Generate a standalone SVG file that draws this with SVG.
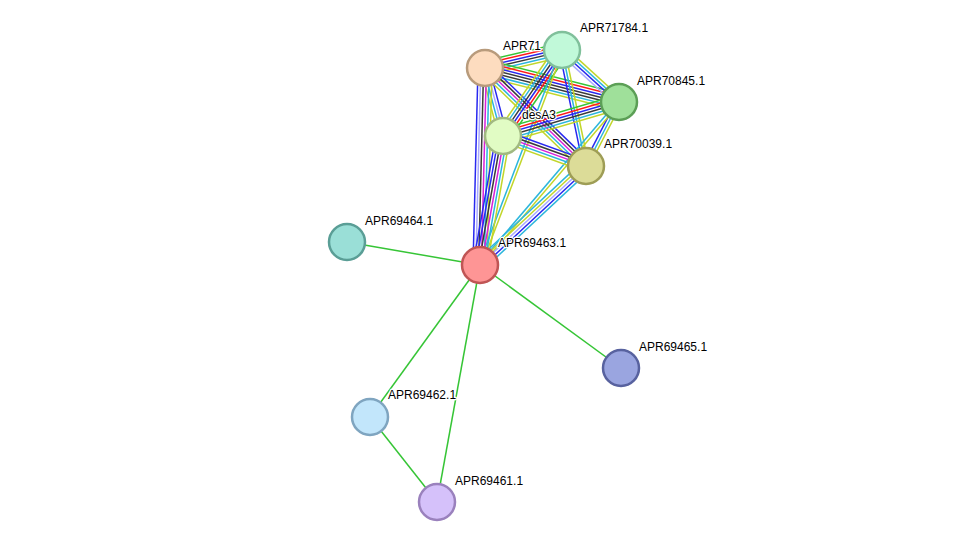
<svg xmlns="http://www.w3.org/2000/svg" width="975" height="548" viewBox="0 0 975 548">
<style>
.e line{stroke-width:1.5;fill:none}
.g{stroke:#36c536}.r{stroke:#ff1a1a}.b{stroke:#2828f0}.k{stroke:#3a3a3a}.m{stroke:#d820d8}.c{stroke:#2cb6dc}.y{stroke:#c2d62a}.l{stroke:#a8a8ff}
.n circle{stroke-width:2.5}
.n text{font-family:"Liberation Sans",Arial,sans-serif;font-size:12px;fill:#000;stroke:#fff;stroke-width:2.5;stroke-linejoin:round;paint-order:stroke}
.s{stroke:#36c536;stroke-width:1.5}
</style>
<rect width="975" height="548" fill="#fff"/>
<g id="connectors" class="e">
<g transform="translate(485,68) rotate(-13.16)"><line class="g" x1="0" y1="-7" x2="79" y2="-7"/><line class="r" x1="0" y1="-4.2" x2="79" y2="-4.2"/><line class="b" x1="0" y1="-1.4" x2="79" y2="-1.4"/><line class="k" x1="0" y1="1.4" x2="79" y2="1.4"/><line class="c" x1="0" y1="4.2" x2="79" y2="4.2"/><line class="y" x1="0" y1="7" x2="79" y2="7"/></g>
<g transform="translate(485,68) rotate(14.24)"><line class="g" x1="0" y1="-8.4" x2="138" y2="-8.4"/><line class="r" x1="0" y1="-5.6" x2="138" y2="-5.6"/><line class="b" x1="0" y1="-2.8" x2="138" y2="-2.8"/><line class="k" x1="0" y1="0" x2="138" y2="0"/><line class="k" x1="0" y1="2.8" x2="138" y2="2.8"/><line class="c" x1="0" y1="5.6" x2="138" y2="5.6"/><line class="y" x1="0" y1="8.4" x2="138" y2="8.4"/></g>
<g transform="translate(485,68) rotate(75.17)"><line class="b" x1="0" y1="-4.2" x2="70" y2="-4.2"/><line class="l" x1="0" y1="-1.4" x2="70" y2="-1.4"/><line class="c" x1="0" y1="1.4" x2="70" y2="1.4"/><line class="y" x1="0" y1="4.2" x2="70" y2="4.2"/></g>
<g transform="translate(485,68) rotate(44.13)"><line class="b" x1="0" y1="-5.6" x2="141" y2="-5.6"/><line class="k" x1="0" y1="-2.8" x2="141" y2="-2.8"/><line class="m" x1="0" y1="0" x2="141" y2="0"/><line class="c" x1="0" y1="2.8" x2="141" y2="2.8"/><line class="y" x1="0" y1="5.6" x2="141" y2="5.6"/></g>
<g transform="translate(485,68) rotate(91.45)"><line class="y" x1="0" y1="-7" x2="197" y2="-7"/><line class="c" x1="0" y1="-4.2" x2="197" y2="-4.2"/><line class="m" x1="0" y1="-1.4" x2="197" y2="-1.4"/><line class="k" x1="0" y1="1.4" x2="197" y2="1.4"/><line class="l" x1="0" y1="4.2" x2="197" y2="4.2"/><line class="b" x1="0" y1="7" x2="197" y2="7"/></g>
<g transform="translate(562,50) rotate(42.37)"><line class="y" x1="0" y1="-4.2" x2="77" y2="-4.2"/><line class="c" x1="0" y1="-1.4" x2="77" y2="-1.4"/><line class="b" x1="0" y1="1.4" x2="77" y2="1.4"/><line class="l" x1="0" y1="4.2" x2="77" y2="4.2"/></g>
<g transform="translate(562,50) rotate(124.45)"><line class="g" x1="0" y1="-7" x2="104" y2="-7"/><line class="r" x1="0" y1="-4.2" x2="104" y2="-4.2"/><line class="b" x1="0" y1="-1.4" x2="104" y2="-1.4"/><line class="k" x1="0" y1="1.4" x2="104" y2="1.4"/><line class="c" x1="0" y1="4.2" x2="104" y2="4.2"/><line class="y" x1="0" y1="7" x2="104" y2="7"/></g>
<g transform="translate(562,50) rotate(78.31)"><line class="y" x1="0" y1="-2.8" x2="118" y2="-2.8"/><line class="c" x1="0" y1="0" x2="118" y2="0"/><line class="b" x1="0" y1="2.8" x2="118" y2="2.8"/></g>
<g transform="translate(562,50) rotate(110.87)"><line class="y" x1="0" y1="-1.4" x2="230" y2="-1.4"/><line class="c" x1="0" y1="1.4" x2="230" y2="1.4"/></g>
<g transform="translate(619,102) rotate(163.66)"><line class="y" x1="0" y1="-7" x2="121" y2="-7"/><line class="c" x1="0" y1="-4.2" x2="121" y2="-4.2"/><line class="k" x1="0" y1="-1.4" x2="121" y2="-1.4"/><line class="b" x1="0" y1="1.4" x2="121" y2="1.4"/><line class="r" x1="0" y1="4.2" x2="121" y2="4.2"/><line class="g" x1="0" y1="7" x2="121" y2="7"/></g>
<g transform="translate(619,102) rotate(117.28)"><line class="y" x1="0" y1="-2.8" x2="72" y2="-2.8"/><line class="c" x1="0" y1="0" x2="72" y2="0"/><line class="b" x1="0" y1="2.8" x2="72" y2="2.8"/></g>
<g transform="translate(619,102) rotate(130.46)"><line class="y" x1="0" y1="-1.4" x2="214" y2="-1.4"/><line class="c" x1="0" y1="1.4" x2="214" y2="1.4"/></g>
<g transform="translate(503,136) rotate(19.87)"><line class="b" x1="0" y1="-5.6" x2="88" y2="-5.6"/><line class="k" x1="0" y1="-2.8" x2="88" y2="-2.8"/><line class="m" x1="0" y1="0" x2="88" y2="0"/><line class="c" x1="0" y1="2.8" x2="88" y2="2.8"/><line class="y" x1="0" y1="5.6" x2="88" y2="5.6"/></g>
<g transform="translate(503,136) rotate(100.11)"><line class="y" x1="0" y1="-7" x2="131" y2="-7"/><line class="c" x1="0" y1="-4.2" x2="131" y2="-4.2"/><line class="m" x1="0" y1="-1.4" x2="131" y2="-1.4"/><line class="k" x1="0" y1="1.4" x2="131" y2="1.4"/><line class="b" x1="0" y1="4.2" x2="131" y2="4.2"/><line class="b" x1="0" y1="7" x2="131" y2="7"/></g>
<g transform="translate(586,166) rotate(136.96)"><line class="c" x1="0" y1="-5.6" x2="145" y2="-5.6"/><line class="b" x1="0" y1="-2.8" x2="145" y2="-2.8"/><line class="l" x1="0" y1="0" x2="145" y2="0"/><line class="y" x1="0" y1="2.8" x2="145" y2="2.8"/><line class="c" x1="0" y1="5.6" x2="145" y2="5.6"/></g>
<line class="s" x1="480" y1="265" x2="347" y2="242"/>
<line class="s" x1="480" y1="265" x2="621" y2="368"/>
<line class="s" x1="480" y1="265" x2="370" y2="417"/>
<line class="s" x1="480" y1="265" x2="437" y2="502"/>
<line class="s" x1="370" y1="417" x2="437" y2="502"/>
</g>
<g id="APR71" class="n"><circle cx="485" cy="68" r="18" fill="#fddcbf" stroke="#b89b7c"/><text x="503" y="50">APR71</text></g>
<g id="APR71784.1" class="n"><circle cx="562" cy="50" r="18" fill="#c1f9d9" stroke="#80c09b"/><text x="580" y="32">APR71784.1</text></g>
<g id="APR70845.1" class="n"><circle cx="619" cy="102" r="18" fill="#9fe09a" stroke="#5c9f56"/><text x="637" y="85">APR70845.1</text></g>
<g id="desA3" class="n"><circle cx="503" cy="136" r="18" fill="#e1fcc4" stroke="#a1b982"/><text x="522" y="119">desA3</text></g>
<g id="APR70039.1" class="n"><circle cx="586" cy="166" r="18" fill="#dcdc98" stroke="#9e9d56"/><text x="604" y="148">APR70039.1</text></g>
<g id="APR69463.1" class="n"><circle cx="480" cy="265" r="18" fill="#fe9595" stroke="#c05555"/><text x="498" y="247">APR69463.1</text></g>
<g id="APR69464.1" class="n"><circle cx="347" cy="242" r="18" fill="#9adfd7" stroke="#5a9e96"/><text x="365" y="225">APR69464.1</text></g>
<g id="APR69465.1" class="n"><circle cx="621" cy="368" r="18" fill="#9aa5e0" stroke="#58629f"/><text x="639" y="351">APR69465.1</text></g>
<g id="APR69462.1" class="n"><circle cx="370" cy="417" r="18" fill="#c2e6fb" stroke="#7fa5c0"/><text x="388" y="399">APR69462.1</text></g>
<g id="APR69461.1" class="n"><circle cx="437" cy="502" r="18" fill="#d5c1fa" stroke="#9a81bd"/><text x="455" y="485">APR69461.1</text></g>
</svg>
